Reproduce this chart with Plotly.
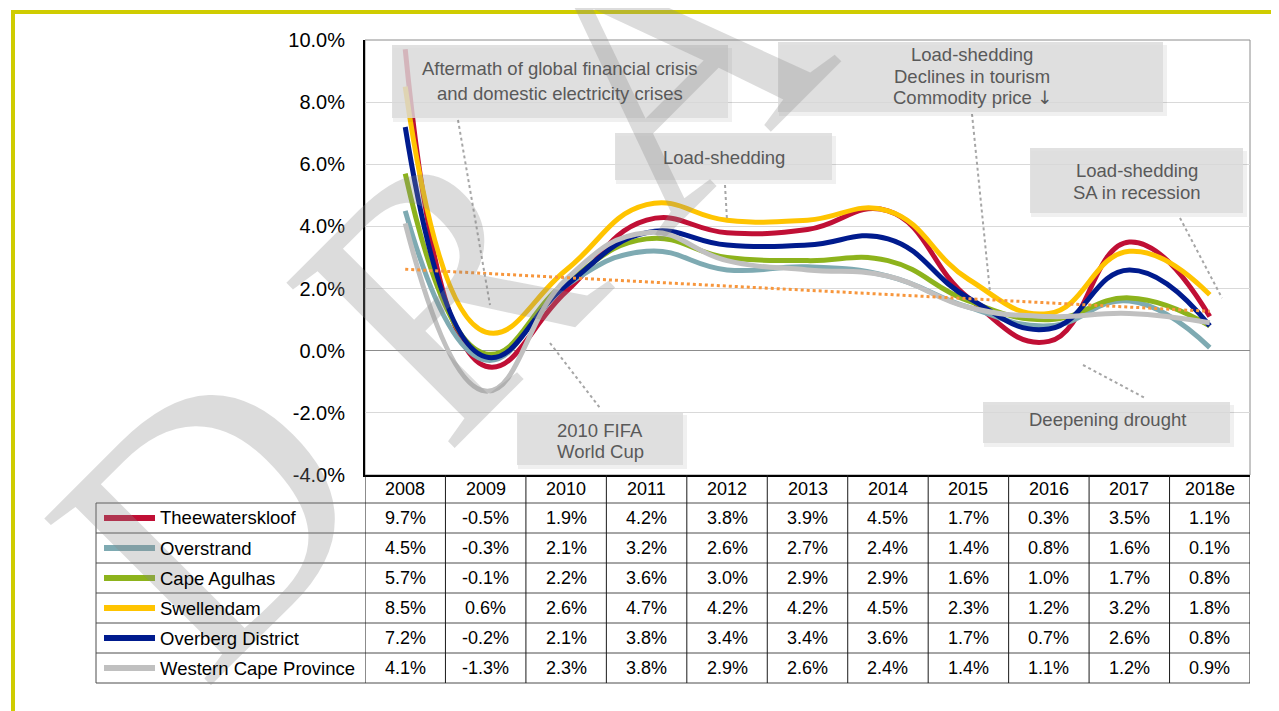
import numpy as np
import plotly.graph_objects as go

# growth rates (%)
years = ["2008", "2009", "2010", "2011", "2012", "2013", "2014", "2015", "2016", "2017", "2018e"]
theewaterskloof = [9.7, -0.5, 1.9, 4.2, 3.8, 3.9, 4.5, 1.7, 0.3, 3.5, 1.1]
overstrand = [4.5, -0.3, 2.1, 3.2, 2.6, 2.7, 2.4, 1.4, 0.8, 1.6, 0.1]
cape_agulhas = [5.7, -0.1, 2.2, 3.6, 3.0, 2.9, 2.9, 1.6, 1.0, 1.7, 0.8]
swellendam = [8.5, 0.6, 2.6, 4.7, 4.2, 4.2, 4.5, 2.3, 1.2, 3.2, 1.8]
overberg = [7.2, -0.2, 2.1, 3.8, 3.4, 3.4, 3.6, 1.7, 0.7, 2.6, 0.8]
western_cape = [4.1, -1.3, 2.3, 3.8, 2.9, 2.6, 2.4, 1.4, 1.1, 1.2, 0.9]
y_ticks = [-4, -2, 0, 2, 4, 6, 8, 10]

series = [
    ("Theewaterskloof", theewaterskloof, "#c00f35"),
    ("Overstrand", overstrand, "#7eaab2"),
    ("Cape Agulhas", cape_agulhas, "#8db31c"),
    ("Swellendam", swellendam, "#ffc400"),
    ("Overberg District", overberg, "#001b8e"),
    ("Western Cape Province", western_cape, "#c0c0c0"),
]

DOWN = '<span style="font-family:DejaVu Sans">\u2193\ufe0e</span>'

# event call-outs: text lines (text, page x, page y), box (page px), dotted leader (page px)
events = [
    ([("Aftermath of global financial crisis", 560, 68), ("and domestic electricity crises", 560, 93)],
     (392, 45, 728, 118), (458, 120, 490, 305)),
    ([("Load-shedding", 724, 157)], (615, 133, 832, 180), (725, 185, 727, 220)),
    ([("Load-shedding", 972, 55), ("Declines in tourism", 972, 76), ("Commodity price " + DOWN, 972, 98)],
     (778, 42, 1163, 112), (972, 114, 990, 292)),
    ([("Load-shedding", 1137, 170), ("SA in recession", 1137, 192)],
     (1030, 148, 1243, 213), (1180, 218, 1222, 298)),
    ([("2010 FIFA", 600, 430), ("World Cup", 600, 451)], (517, 412, 683, 465), (550, 343, 600, 408)),
    ([("Deepening drought", 1107, 419)], (983, 402, 1230, 443), (1083, 365, 1145, 398)),
]

# watermark letters and their centres (page px)
watermark = [("D", 210, 515), ("R", 445, 285), ("A", 665, 65), ("F", 895, -165), ("T", 1125, -395)]

FONT = "Liberation Sans, Arial, DejaVu Sans, sans-serif"
OFF = 8  # body margin of the html page
W, H = 1279 - OFF, 711 - OFF
# plot area in page pixels
L, R, T, B = 365, 1250, 40, 475
ROW_H = 30


def px(x):
    return (x - L) / (R - L)


def py(y):
    return (B - y) / (B - T)


xs = list(range(len(years)))
fig = go.Figure()

for name, vals, color in series:
    fig.add_trace(go.Scatter(
        x=xs, y=vals, name=name, mode="lines",
        line=dict(color=color, width=5, shape="spline", smoothing=1.3),
        hovertemplate="%{y:.1f}%<extra>" + name + "</extra>",
    ))

# linear trend of the Western Cape series
coef = np.polyfit(xs, western_cape, 1)
fig.add_trace(go.Scatter(
    x=xs, y=np.polyval(coef, xs), mode="lines", name="Trend",
    line=dict(color="#f7963c", width=3, dash="dot"), hoverinfo="skip",
))

shapes = []
annotations = []

# watermark
for letter, wx, wy in watermark:
    annotations.append(dict(
        text=letter, xref="paper", yref="paper", x=px(wx), y=py(wy),
        xanchor="center", yanchor="middle",
        showarrow=False, textangle=-45,
        font=dict(family="Liberation Serif", size=360,
                  color="rgba(140,140,140,0.3)"),
    ))

# yellow page frame
shapes.append(dict(type="line", xref="paper", yref="paper", x0=px(11), x1=px(1290),
                   y0=py(12), y1=py(12), line=dict(color="#cfcc00", width=4)))
shapes.append(dict(type="line", xref="paper", yref="paper", x0=px(13), x1=px(13),
                   y0=py(10), y1=py(720), line=dict(color="#cfcc00", width=4)))

# plot border
shapes.append(dict(type="rect", xref="paper", yref="paper", x0=0, x1=1, y0=0, y1=1,
                   line=dict(color="#8c8c8c", width=1), layer="below"))

# event boxes and leader lines
for lines, (x0, y0, x1, y1), (lx0, ly0, lx1, ly1) in events:
    shapes.append(dict(type="line", xref="paper", yref="paper",
                       x0=px(lx0), y0=py(ly0), x1=px(lx1), y1=py(ly1),
                       line=dict(color="#a6a6a6", width=2, dash="dot")))
    shapes.append(dict(type="rect", xref="paper", yref="paper",
                       x0=px(x0 + 1), y0=py(y0 + 3), x1=px(x1 + 4), y1=py(y1 + 4),
                       line=dict(width=0), fillcolor="rgba(0,0,0,0.06)"))
    shapes.append(dict(type="rect", xref="paper", yref="paper",
                       x0=px(x0), y0=py(y0), x1=px(x1), y1=py(y1),
                       line=dict(width=0), fillcolor="rgba(218,218,218,0.82)"))
    for text, tx, ty in lines:
        annotations.append(dict(
            text=text, xref="paper", yref="paper", x=px(tx), y=py(ty),
            xanchor="center", yanchor="middle", showarrow=False,
            font=dict(family=FONT, size=18.5, color="#595959"),
        ))

# data table below the axis
top = B + 28
n_rows = len(series)
bottom = top + n_rows * ROW_H
for r in range(n_rows + 1):
    yy = top + r * ROW_H
    shapes.append(dict(type="line", xref="paper", yref="paper", x0=px(96), x1=1,
                       y0=py(yy), y1=py(yy), line=dict(color="#4d4d4d", width=1)))
shapes.append(dict(type="line", xref="paper", yref="paper", x0=px(96), x1=px(96),
                   y0=py(top), y1=py(bottom), line=dict(color="#4d4d4d", width=1)))
for i in range(len(years) + 1):
    shapes.append(dict(type="line", xref="x", yref="paper", x0=i - 0.5, x1=i - 0.5,
                       y0=0, y1=py(bottom), line=dict(color="#1a1a1a", width=1)))

# header row: years
for i, yr in enumerate(years):
    annotations.append(dict(text=yr, xref="x", yref="paper", x=i, y=py(B + 14),
                            xanchor="center", yanchor="middle", showarrow=False,
                            font=dict(family=FONT, size=18, color="black")))

for r, (name, vals, color) in enumerate(series):
    yc = top + r * ROW_H + ROW_H / 2
    shapes.append(dict(type="line", xref="paper", yref="paper", x0=px(104), x1=px(155),
                       y0=py(yc), y1=py(yc), line=dict(color=color, width=6)))
    annotations.append(dict(text=name, xref="paper", yref="paper", x=px(158), y=py(yc),
                            xanchor="left", yanchor="middle", showarrow=False,
                            font=dict(family=FONT, size=18.5, color="black")))
    for i, v in enumerate(vals):
        annotations.append(dict(text=f"{v:.1f}%", xref="x", yref="paper", x=i, y=py(yc),
                                xanchor="center", yanchor="middle", showarrow=False,
                                font=dict(family=FONT, size=18, color="black")))

fig.update_layout(
    width=W, height=H,
    margin=dict(l=L - OFF, r=W - (R - OFF), t=T - OFF, b=H - (B - OFF), pad=0),
    paper_bgcolor="white", plot_bgcolor="white",
    showlegend=False,
    font=dict(family=FONT, color="black"),
    shapes=shapes, annotations=annotations,
)
fig.update_xaxes(
    range=[-0.5, len(years) - 0.5], showticklabels=False,
    showgrid=False, zeroline=False, showline=True, linecolor="black", linewidth=2,
    ticks="",
)
fig.update_yaxes(
    range=[-4, 10], tickmode="array", tickvals=y_ticks,
    ticktext=[f"{v:.1f}%" for v in y_ticks],
    showgrid=True, gridcolor="#d9d9d9", gridwidth=1,
    zeroline=True, zerolinecolor="#8c8c8c", zerolinewidth=1,
    showline=True, linecolor="black", linewidth=2,
    ticks="", tickfont=dict(size=20, family=FONT, color="black"), ticklabelstandoff=14,
)

fig.write_html("out.html")
